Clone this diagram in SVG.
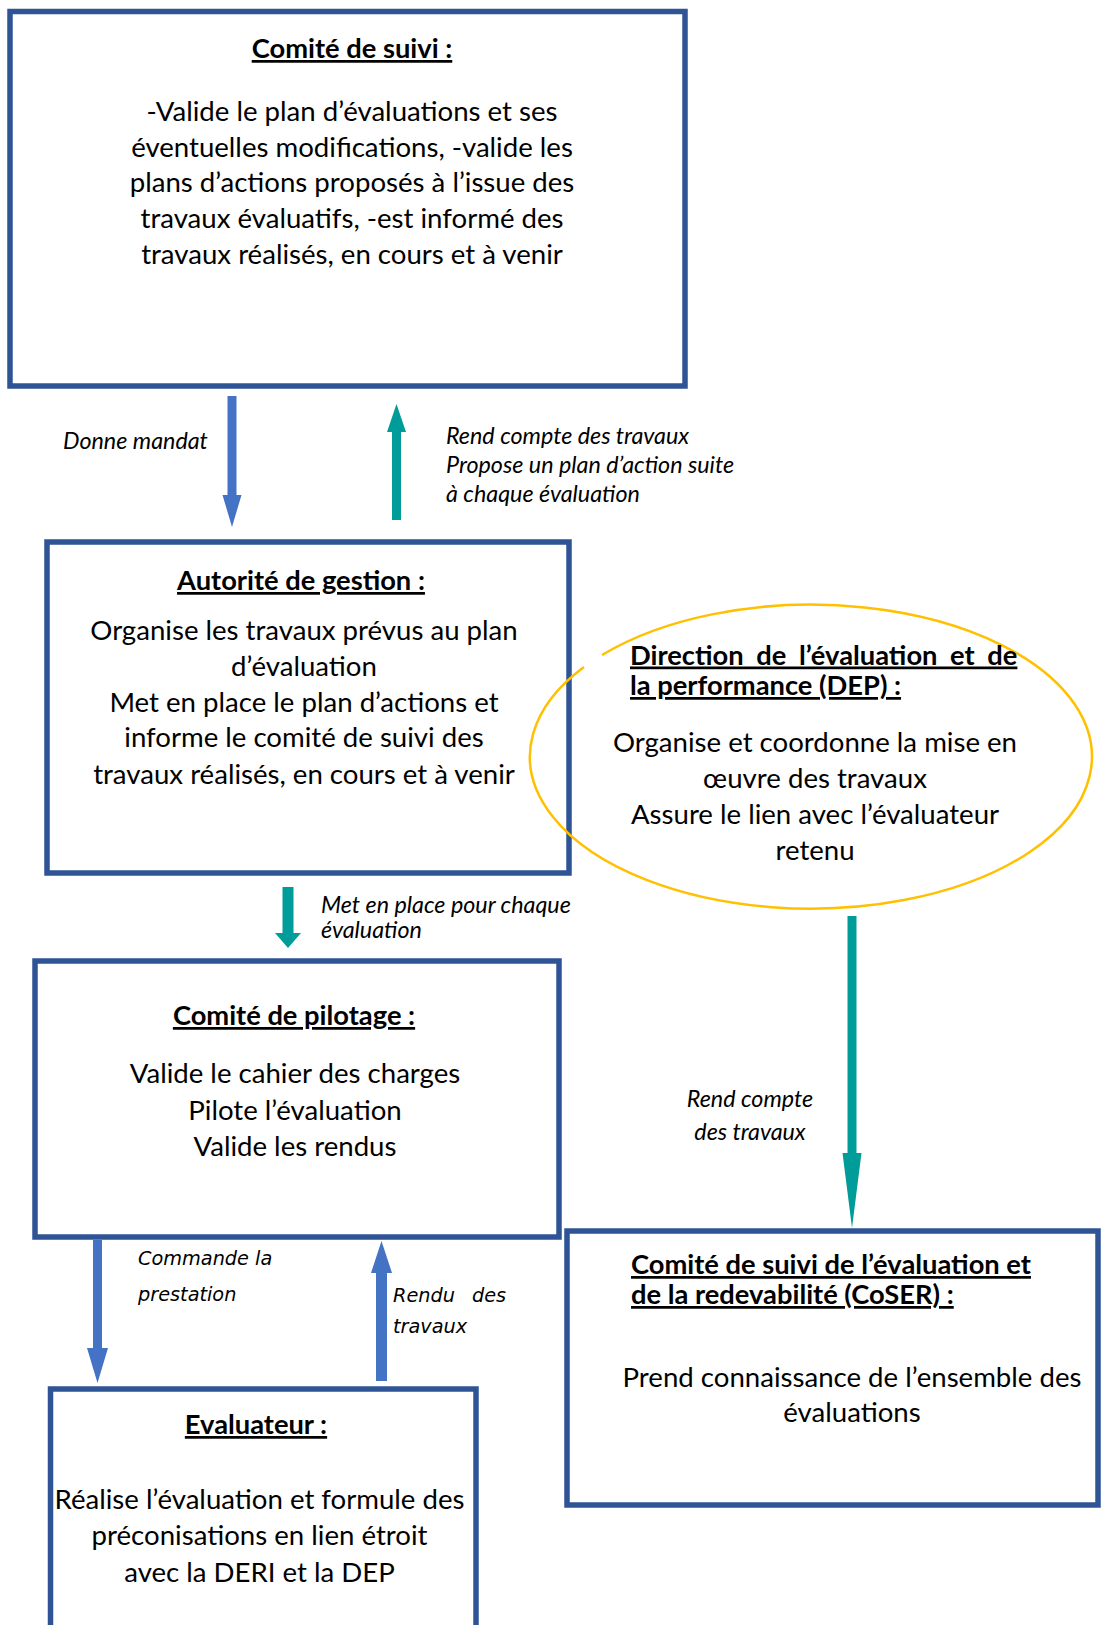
<svg xmlns="http://www.w3.org/2000/svg" width="1103" height="1625" viewBox="0 0 1103 1625">
<style>
.box{fill:#fff;stroke:#2F5496;stroke-width:5.5}
.t{font-family:Lato,"Liberation Sans",sans-serif;font-size:27.6px;fill:#000;text-anchor:middle}
.h{font-weight:bold;text-decoration:underline;font-size:27.3px}
.s{text-anchor:start}
.l{font-family:Lato,"Liberation Sans",sans-serif;font-size:23.3px;font-style:italic;fill:#000}
.m{text-anchor:middle}
.v{font-family:"DejaVu Sans",sans-serif;font-size:19.3px;font-style:italic;fill:#000}
.blue{fill:#4472C4}
.teal{fill:#009C9A}
</style>
<g id="connectors">
<polygon class="blue" points="227.5,396 236.5,396 236.5,495 241.5,495 232,527 222.5,495 227.5,495"/>
<polygon class="teal" points="392,520 401,520 401,432 406,432 396.5,404 387,432 392,432"/>
<polygon class="teal" points="282.5,887 293.5,887 293.5,933 301,933 288,948 275,933 282.5,933"/>
<polygon class="teal" points="847.5,916 856.5,916 856.5,1153 861.5,1153 852,1228 842.5,1153 847.5,1153"/>
<polygon class="blue" points="93,1240 102,1240 102,1348 108,1348 97.5,1383 87,1348 93,1348"/>
<polygon class="blue" points="376,1381 387,1381 387,1273 392,1273 381.5,1241 371,1273 376,1273"/>
<text class="l" x="63" y="449">Donne mandat</text>
<text class="l" x="446" y="444">Rend compte des travaux</text>
<text class="l" x="446" y="473">Propose un plan d’action suite</text>
<text class="l" x="446" y="502">à chaque évaluation</text>
<text class="l" x="321" y="913">Met en place pour chaque</text>
<text class="l" x="321" y="938">évaluation</text>
<text class="l m" x="750" y="1107">Rend compte</text>
<text class="l m" x="750" y="1140">des travaux</text>
<text class="v" x="138" y="1265">Commande la</text>
<text class="v" x="138" y="1301">prestation</text>
<text class="v" x="393" y="1302">Rendu</text>
<text class="v" x="472" y="1302">des</text>
<text class="v" x="393" y="1333">travaux</text>
</g>
<g id="comite-suivi">
<rect class="box" x="10" y="11.5" width="675" height="374.5"/>
<text class="t h" x="352" y="58">Comité de suivi :</text>
<text class="t" x="352" y="120.5">-Valide le plan d’évaluations et ses</text>
<text class="t" x="352" y="156.5">éventuelles modifications, -valide les</text>
<text class="t" x="352" y="192">plans d’actions proposés à l’issue des</text>
<text class="t" x="352" y="228">travaux évaluatifs, -est informé des</text>
<text class="t" x="352" y="263.5">travaux réalisés, en cours et à venir</text>
</g>
<g id="autorite-gestion">
<rect class="box" x="47" y="542" width="522" height="331"/>
<text class="t h" x="301" y="590">Autorité de gestion :</text>
<text class="t" x="304" y="640">Organise les travaux prévus au plan</text>
<text class="t" x="304" y="676">d’évaluation</text>
<text class="t" x="304" y="712">Met en place le plan d’actions et</text>
<text class="t" x="304" y="747">informe le comité de suivi des</text>
<text class="t" x="304" y="783.5">travaux réalisés, en cours et à venir</text>
</g>
<g id="dep">
<path d="M602,655 A281,152 0 1 1 584,667" fill="none" stroke="#FFC000" stroke-width="2.5"/>
<text class="t h s" x="630" y="664.5" word-spacing="6">Direction de l’évaluation et de</text>
<text class="t h s" x="630" y="695">la performance (DEP) :</text>
<text class="t" x="815" y="752">Organise et coordonne la mise en</text>
<text class="t" x="815" y="788">œuvre des travaux</text>
<text class="t" x="815" y="824">Assure le lien avec l’évaluateur</text>
<text class="t" x="815" y="860">retenu</text>
</g>
<g id="comite-pilotage">
<rect class="box" x="35" y="961" width="524" height="276"/>
<text class="t h" x="294" y="1025">Comité de pilotage :</text>
<text class="t" x="295" y="1083">Valide le cahier des charges</text>
<text class="t" x="295" y="1120">Pilote l’évaluation</text>
<text class="t" x="295" y="1156">Valide les rendus</text>
</g>
<g id="evaluateur">
<rect class="box" x="50.5" y="1389" width="425.5" height="300"/>
<text class="t h" x="256" y="1434">Evaluateur :</text>
<text class="t" x="259.5" y="1509">Réalise l’évaluation et formule des</text>
<text class="t" x="259.5" y="1545">préconisations en lien étroit</text>
<text class="t" x="259.5" y="1582">avec la DERI et la DEP</text>
</g>
<g id="coser">
<rect class="box" x="567" y="1231" width="531" height="274"/>
<text class="t h s" x="631" y="1274">Comité de suivi de l’évaluation et</text>
<text class="t h s" x="631" y="1304">de la redevabilité (CoSER) :</text>
<text class="t" x="852" y="1387">Prend connaissance de l’ensemble des</text>
<text class="t" x="852" y="1422">évaluations</text>
</g>
</svg>
